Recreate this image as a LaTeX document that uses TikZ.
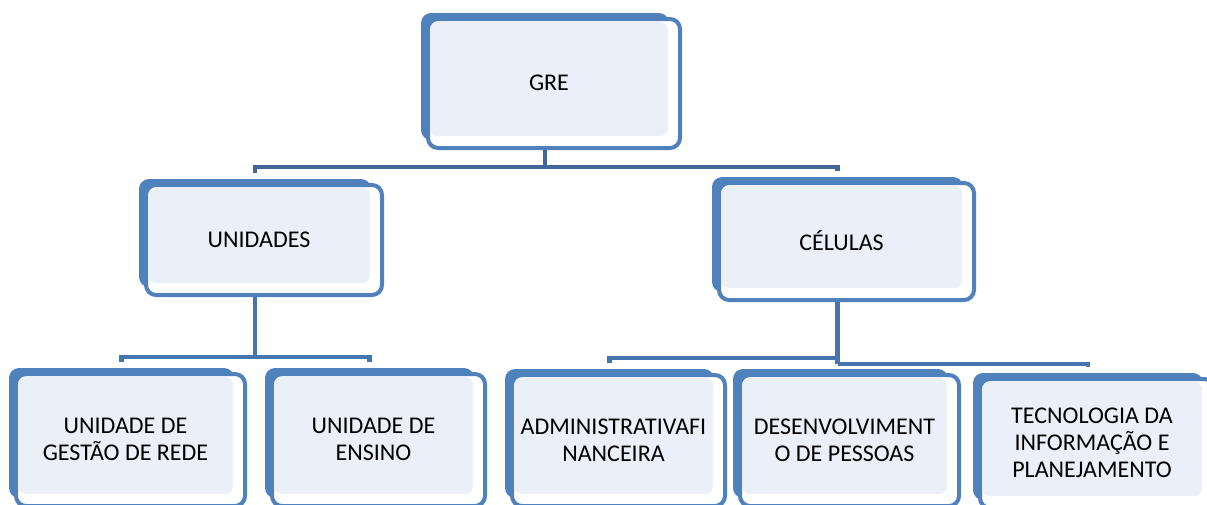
\documentclass[tikz,border=0pt]{standalone}
\usepackage{fontspec}
\setmainfont{Carlito}
\usetikzlibrary{backgrounds,calc}
\definecolor{boxblue}{HTML}{4F81BD}
\definecolor{lightfill}{HTML}{EBF0F8}
\definecolor{connblue}{HTML}{4676B0}
\definecolor{conndark}{HTML}{3F6898}
\tikzset{
 backbox/.style={fill=boxblue, rounded corners=10pt, inner sep=0pt, draw=none},
 frontbox/.style={draw=boxblue, fill=white, line width=4pt, rounded corners=10pt},
 lightbox/.style={fill=lightfill, rounded corners=8pt},
 boxtext/.style={font=\fontsize{24}{27}\selectfont, align=center, text=black, inner sep=0pt},
 conn/.style={draw=connblue, line width=4.5pt},
}
\newcommand\gbox[6]{%
  \node[backbox, minimum width={(#4-#2-13)*1pt}, minimum height={(#5-#3-10)*1pt}] (#1) at ({(#2+#4-13)/2},{(#3+#5-10)/2}) {};
  \draw[frontbox] ({#2+7},{#3+6}) rectangle ({#4-2},{#5-2});
  \fill[lightbox] ({#2+9},{#3+9}) rectangle ({#4-14},{#5-14});
  \node[boxtext] (#1-t) at ({(#2+#4-5)/2},{(#3+#5-5)/2+4}) {#6};
}
\begin{document}
\begin{tikzpicture}[x=1pt,y=-1pt]
\useasboundingbox (0,0) rectangle (1207,504);
\gbox{gre}{421}{13}{682}{150}{GRE}
\gbox{unid}{139}{179}{384}{297}{UNIDADES}
\gbox{cel}{712}{177}{976}{302}{CÉLULAS}
\gbox{ugr}{9}{368}{247}{508}{UNIDADE DE\\GESTÃO DE REDE}
\gbox{ens}{265}{368}{487}{508}{UNIDADE DE\\ENSINO}
\gbox{adm}{505}{369}{727}{508}{ADMINISTRATIVAFI\\NANCEIRA}
\gbox{des}{733}{369}{961}{508}{DESENVOLVIMENT\\O DE PESSOAS}
\gbox{tec}{973}{373}{1216}{510}{TECNOLOGIA DA\\INFORMAÇÃO E\\PLANEJAMENTO}
\begin{pgfonlayer}{background}
\path (gre.south) ++(0,27) coordinate (h1);
\draw[conn, draw=conndark] (gre.south) -- (h1);
\draw[conn, draw=conndark] ([yshift=6pt]unid.north) |- (h1) -| ([yshift=6pt]cel.north);
\path (unid.south) ++(0,70) coordinate (h2);
\draw[conn] (unid.south) -- (h2);
\draw[conn] ([yshift=6pt]ugr.north) |- (h2) -| ([yshift=6pt]ens.north);
\path (cel.south) ++(0,66) coordinate (h3);
\path (cel.south) ++(0,72) coordinate (h4);
\draw[conn] (cel.south) -- ([yshift=5pt]cel.south |- des.north);
\draw[conn] (h3) -| ([yshift=6pt]adm.north);
\draw[conn] (h4) -| ([yshift=6pt]tec.north);
\end{pgfonlayer}
\end{tikzpicture}
\end{document}
